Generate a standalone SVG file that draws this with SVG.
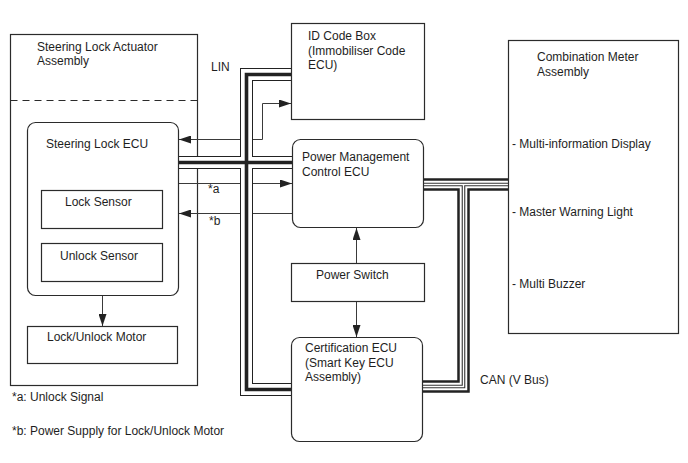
<svg xmlns="http://www.w3.org/2000/svg" width="688" height="463" viewBox="0 0 688 463">
<style>
.box{fill:none;stroke:#2b2b2b;stroke-width:1.2}
.t{font-family:"Liberation Sans",Arial,Helvetica,sans-serif;font-size:12px;fill:#1e1e1e}
.ln{fill:none;stroke:#3a3a3a;stroke-width:1}
.bk13{fill:none;stroke:#222;stroke-width:13}
.wh11{fill:none;stroke:#fff;stroke-width:11}
.bk35{fill:none;stroke:#222;stroke-width:3.6}
.bk12{fill:none;stroke:#222;stroke-width:12.5}
.wh8{fill:none;stroke:#fff;stroke-width:7.5}
.bk4{fill:none;stroke:#333;stroke-width:3.6}
.wh2{fill:none;stroke:#fff;stroke-width:1.4}
</style>
<defs>
<marker id="ah" markerUnits="userSpaceOnUse" markerWidth="12" markerHeight="8" refX="12" refY="4" orient="auto-start-reverse">
<path d="M0,0 L12,4 L0,8 z" fill="#222"/>
</marker>
</defs>
<rect width="688" height="463" fill="#fff"/>

<g id="steering-lock-actuator-assembly">
<rect class="box" x="10.5" y="34.5" width="187" height="351"/>
<line x1="10.5" y1="100.5" x2="197.5" y2="100.5" stroke="#2b2b2b" stroke-width="1.2" stroke-dasharray="7,5"/>
<text class="t" x="37" y="51">Steering Lock Actuator</text>
<text class="t" x="37" y="65">Assembly</text>
</g>

<g id="connectors">
<path class="ln" d="M179,139.5 H262.5 V103.5 H291" marker-start="url(#ah)" marker-end="url(#ah)"/>
<path class="ln" d="M179,183.5 H292" marker-end="url(#ah)"/>
<path class="ln" d="M292,213.5 H179" marker-end="url(#ah)"/>
<path class="ln" d="M102.5,296 V326" marker-end="url(#ah)"/>
<path class="ln" d="M356.5,263 V228" marker-end="url(#ah)"/>
<path class="ln" d="M356.5,302 V337" marker-end="url(#ah)"/>
<g id="lin-bus">
<path class="bk13" d="M291,74.5 H246.5 V389.5 H291 M179,162.5 H292"/>
<path class="wh11" d="M291,74.5 H246.5 V389.5 H291 M179,162.5 H292"/>
<path class="bk35" d="M291,74.5 H246.5 V389.5 H291 M179,162.5 H292"/>
</g>
<g id="can-bus">
<path class="bk12" d="M424,184.5 H508 M463.5,184.5 V386.5 H423"/>
<path class="wh8" d="M424,184.5 H508 M463.5,184.5 V386.5 H423"/>
<path class="bk4" d="M424,184.5 H508 M463.5,184.5 V386.5 H423"/>
<path class="wh2" d="M424,184.5 H508 M463.5,184.5 V386.5 H423"/>
</g>
<text class="t" x="211" y="71">LIN</text>
<text class="t" x="480" y="384">CAN (V Bus)</text>
<text class="t" x="208" y="193">*a</text>
<text class="t" x="209" y="225">*b</text>
</g>

<g id="steering-lock-ecu">
<rect class="box" x="27.5" y="122.5" width="151" height="173" rx="8"/>
<text class="t" x="46" y="148">Steering Lock ECU</text>
</g>
<g id="lock-sensor">
<rect class="box" x="41.5" y="190.5" width="121" height="38"/>
<text class="t" x="65" y="206">Lock Sensor</text>
</g>
<g id="unlock-sensor">
<rect class="box" x="41.5" y="243.5" width="121" height="38"/>
<text class="t" x="60" y="260">Unlock Sensor</text>
</g>
<g id="lock-unlock-motor">
<rect class="box" x="27.5" y="326.5" width="150" height="37"/>
<text class="t" x="47" y="341">Lock/Unlock Motor</text>
</g>
<g id="id-code-box">
<rect class="box" x="291.5" y="23.5" width="133" height="96"/>
<text class="t" x="308" y="40">ID Code Box</text>
<text class="t" x="308" y="55">(Immobiliser Code</text>
<text class="t" x="308" y="69">ECU)</text>
</g>
<g id="power-management-control-ecu">
<rect class="box" x="292.5" y="139.5" width="131" height="88" rx="8"/>
<text class="t" x="302" y="161">Power Management</text>
<text class="t" x="302" y="176">Control ECU</text>
</g>
<g id="power-switch">
<rect class="box" x="291.5" y="263.5" width="133" height="38"/>
<text class="t" x="316" y="279">Power Switch</text>
</g>
<g id="certification-ecu">
<rect class="box" x="291.5" y="337.5" width="131" height="104" rx="8"/>
<text class="t" x="305" y="352">Certification ECU</text>
<text class="t" x="305" y="367">(Smart Key ECU</text>
<text class="t" x="305" y="381">Assembly)</text>
</g>
<g id="combination-meter-assembly">
<rect class="box" x="508.5" y="40.5" width="170" height="293"/>
<text class="t" x="537" y="61">Combination Meter</text>
<text class="t" x="537" y="76">Assembly</text>
<text class="t" x="512" y="148">- Multi-information Display</text>
<text class="t" x="512" y="216">- Master Warning Light</text>
<text class="t" x="512" y="288">- Multi Buzzer</text>
</g>
<g id="legend">
<text class="t" x="12" y="401">*a: Unlock Signal</text>
<text class="t" x="12" y="435">*b: Power Supply for Lock/Unlock Motor</text>
</g>
</svg>
